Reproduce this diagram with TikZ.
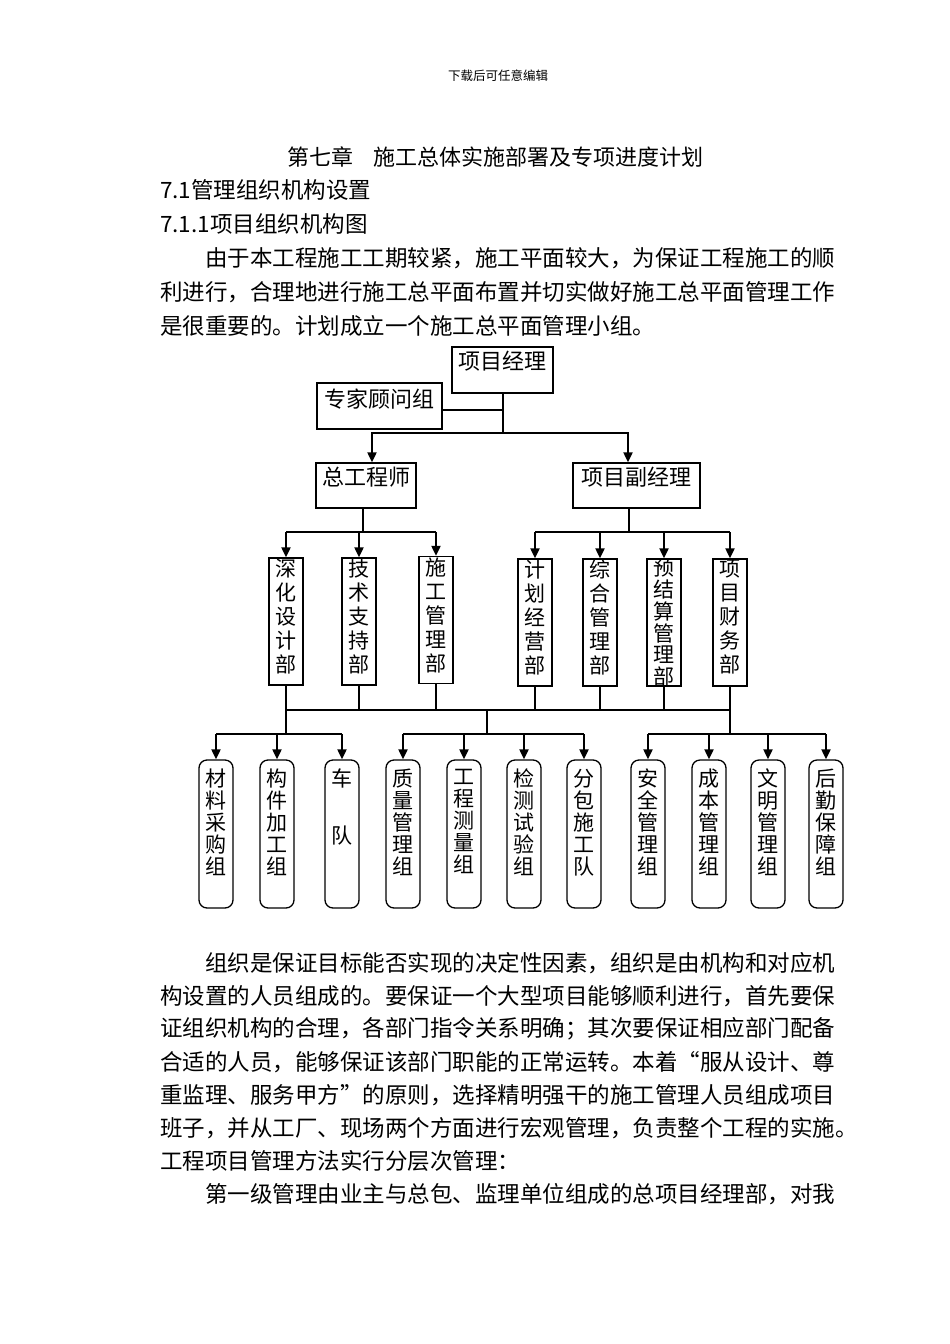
\documentclass[tikz,border=0pt]{standalone}
\usepackage{fontspec}
\setmainfont{Noto Sans CJK SC}
\usetikzlibrary{arrows.meta}
\newcommand{\boxtxt}[4]{\parbox[c][#1][t]{#2}{\centering\vspace*{#3}#4}}
\begin{document}
\begin{tikzpicture}[x=1pt,y=-1pt,
  conn/.style={line width=2pt},
  arr/.style={line width=2pt,-{Triangle[length=10pt,width=9pt]}},
  hbox/.style={draw,line width=1.3pt,inner sep=0pt,font=\fontsize{22}{24}\selectfont},
  vbox/.style={draw,line width=1.3pt,inner sep=0pt,font=\fontsize{21}{24}\selectfont},
  rbox/.style={draw,line width=1.3pt,inner sep=0pt,rounded corners=8pt,font=\fontsize{21}{22}\selectfont},
  txt/.style={anchor=west,inner sep=0pt,font=\fontsize{22.5}{24}\selectfont}
]
\fill[white] (0,0) rectangle (950,1344);
\useasboundingbox (0,0) rectangle (950,1344);

% page text above
\node[inner sep=0pt,font=\fontsize{12.5}{14}\selectfont] (hdr) at (498,76) {下载后可任意编辑};
\node[txt,font=\fontsize{22}{24}\selectfont] (title) at (287,157) {第七章\hspace{20pt}施工总体实施部署及专项进度计划};
\node[txt] (s1) at (160,190) {7.1管理组织机构设置};
\node[txt] (s2) at (160,224) {7.1.1项目组织机构图};
\node[txt] (p1) at (205,258) {由于本工程施工工期较紧，施工平面较大，为保证工程施工的顺};
\node[txt] (p2) at (160,292) {利进行，合理地进行施工总平面布置并切实做好施工总平面管理工作};
\node[txt] (p3) at (160,326) {是很重要的。计划成立一个施工总平面管理小组。};

% level 1 & 2
\node[hbox] (pm) at (502.5,370) {\boxtxt{46pt}{101pt}{4pt}{项目经理}};
\node[hbox] (expert) at (379.5,406) {\boxtxt{46pt}{125pt}{6pt}{专家顾问组}};
\node[hbox] (chief) at (366,485.5) {\boxtxt{45pt}{100pt}{4pt}{总工程师}};
\node[hbox] (deputy) at (636.5,485.5) {\boxtxt{45pt}{127pt}{4pt}{项目副经理}};

% departments
\node[vbox] (d1) at (286,621.5) {\boxtxt{127pt}{34pt}{1pt}{深\\化\\设\\计\\部}};
\node[vbox] (d2) at (359,621.5) {\boxtxt{127pt}{34pt}{1pt}{技\\术\\支\\持\\部}};
\node[vbox] (d3) at (436,620) {\boxtxt{127pt}{34pt}{1pt}{施\\工\\管\\理\\部}};
\node[vbox] (d4) at (535,622.5) {\boxtxt{127pt}{34pt}{1pt}{计\\划\\经\\营\\部}};
\node[vbox] (d5) at (600,622.5) {\boxtxt{127pt}{34pt}{1pt}{综\\合\\管\\理\\部}};
\node[vbox] (d6) at (664,622.5) {\boxtxt{127pt}{34pt}{0pt}{\fontsize{21}{21.8}\selectfont 预\\结\\算\\管\\理\\部}};
\node[vbox] (d7) at (730,622.5) {\boxtxt{127pt}{34pt}{1pt}{项\\目\\财\\务\\部}};

% groups
\node[rbox] (g1) at (216,834) {\boxtxt{148pt}{34pt}{9pt}{材\\料\\采\\购\\组}};
\node[rbox] (g2) at (277,834) {\boxtxt{148pt}{34pt}{9pt}{构\\件\\加\\工\\组}};
\node[rbox] (g3) at (342,834) {\boxtxt{148pt}{34pt}{9pt}{车\\[35pt]队}};
\node[rbox] (g4) at (403,834) {\boxtxt{148pt}{34pt}{9pt}{质\\量\\管\\理\\组}};
\node[rbox] (g5) at (464,834) {\boxtxt{148pt}{34pt}{9pt}{工\\程\\测\\量\\组}};
\node[rbox] (g6) at (524,834) {\boxtxt{148pt}{34pt}{9pt}{检\\测\\试\\验\\组}};
\node[rbox] (g7) at (584,834) {\boxtxt{148pt}{34pt}{9pt}{分\\包\\施\\工\\队}};
\node[rbox] (g8) at (648,834) {\boxtxt{148pt}{34pt}{9pt}{安\\全\\管\\理\\组}};
\node[rbox] (g9) at (709,834) {\boxtxt{148pt}{34pt}{9pt}{成\\本\\管\\理\\组}};
\node[rbox] (g10) at (768,834) {\boxtxt{148pt}{34pt}{9pt}{文\\明\\管\\理\\组}};
\node[rbox] (g11) at (826,834) {\boxtxt{148pt}{34pt}{9pt}{后\\勤\\保\\障\\组}};

% junction coordinates
\coordinate (j1) at (503,433);
\coordinate (cb) at (363,532);
\coordinate (db) at (629,532);
\coordinate (bus) at (487,710);
\coordinate (grp) at (487,734);

% top connectors
\draw[conn] (pm.south) -- (pm.south |- j1);
\draw[conn] ([yshift=-4pt]expert.east) -- ([yshift=-4pt]expert.east -| pm.south);
\draw[arr] (pm.south |- j1) -| ([xshift=6pt]chief.north);
\draw[arr] (pm.south |- j1) -| ([xshift=-8.5pt]deputy.north);

% chief -> departments
\draw[conn] ([xshift=-3pt]chief.south) -- (cb);
\draw[conn] (d1.north |- cb) -- (d3.north |- cb);
\foreach \n in {d1,d2,d3} \draw[arr] (\n.north |- cb) -- (\n.north);
% deputy -> departments
\draw[conn] ([xshift=-7.5pt]deputy.south) -- (db);
\draw[conn] (d4.north |- db) -- (d7.north |- db);
\foreach \n in {d4,d5,d6,d7} \draw[arr] (\n.north |- db) -- (\n.north);

% departments -> bus
\foreach \n in {d1,d2,d3,d4,d5,d6,d7} \draw[conn] (\n.south) -- (\n.south |- bus);
\draw[conn] (d1.south |- bus) -- (d7.south |- bus);

% bus -> groups
\draw[conn] (d1.south |- bus) -- (d1.south |- grp);
\draw[conn] (bus) -- (grp);
\draw[conn] (d7.south |- bus) -- (d7.south |- grp);
\draw[conn] (g1.north |- grp) -- (g3.north |- grp);
\draw[conn] (g4.north |- grp) -- (g7.north |- grp);
\draw[conn] (g8.north |- grp) -- (g11.north |- grp);
\foreach \n in {g1,g2,g3,g4,g5,g6,g7,g8,g9,g10,g11} \draw[arr] (\n.north |- grp) -- (\n.north);

% page text below
\node[txt] (q1) at (205,963) {组织是保证目标能否实现的决定性因素，组织是由机构和对应机};
\node[txt] (q2) at (160,996) {构设置的人员组成的。要保证一个大型项目能够顺利进行，首先要保};
\node[txt] (q3) at (160,1029) {证组织机构的合理，各部门指令关系明确；其次要保证相应部门配备};
\node[txt] (q4) at (160,1062) {合适的人员，能够保证该部门职能的正常运转。本着{\addfontfeature{RawFeature=+fwid}“}服从设计、尊};
\node[txt] (q5) at (160,1095) {重监理、服务甲方{\addfontfeature{RawFeature=+fwid}”}的原则，选择精明强干的施工管理人员组成项目};
\node[txt] (q6) at (160,1128) {班子，并从工厂、现场两个方面进行宏观管理，负责整个工程的实施。};
\node[txt] (q7) at (160,1161) {工程项目管理方法实行分层次管理：};
\node[txt] (q8) at (205,1194) {第一级管理由业主与总包、监理单位组成的总项目经理部，对我};
\end{tikzpicture}
\end{document}
